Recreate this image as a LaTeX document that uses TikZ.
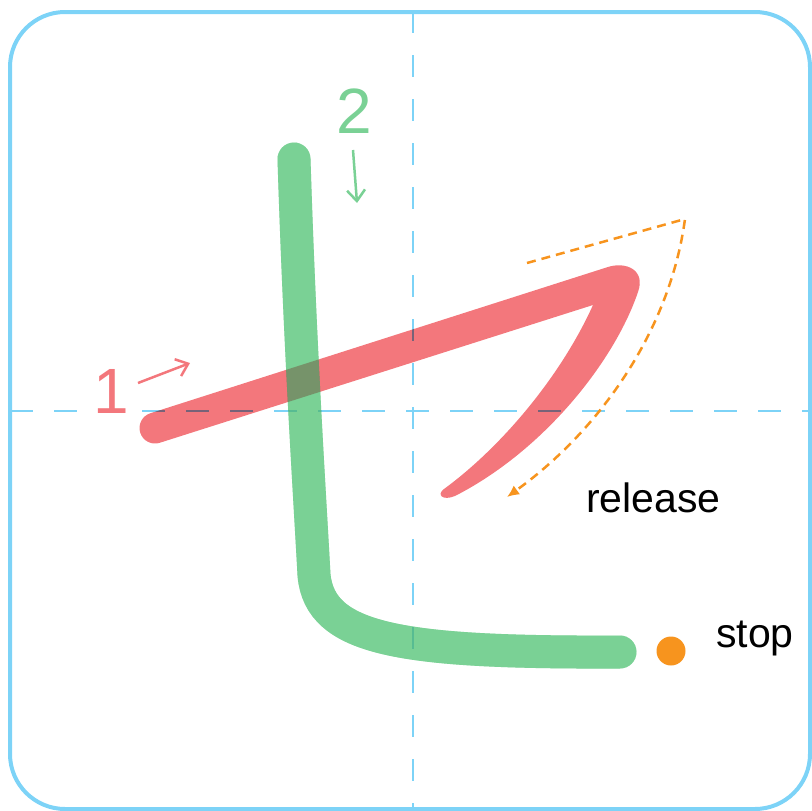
\documentclass[tikz,border=0pt]{standalone}
\usepackage{fontspec}
\setmainfont{Liberation Sans}
\usetikzlibrary{arrows.meta}
\definecolor{gridblue}{RGB}{125,211,247}
\definecolor{strokered}{RGB}{243,119,124}
\definecolor{strokegreen}{RGB}{122,209,149}
\definecolor{hintorange}{RGB}{247,148,30}
\tikzset{
    guide/.style={gridblue, line width=2.5pt, dash pattern=on 22pt off 22pt},
    numlabel/.style={anchor=base, inner sep=0pt, font=\fontsize{64}{70}\selectfont},
    hint/.style={anchor=base west, inner sep=0pt},
    order/.style={line width=2.5pt, -{Straight Barb[length=11pt,width=18pt]}},
    secondstroke/.style={strokegreen, line width=33pt, line cap=round}
}

\begin{document}
\begin{tikzpicture}[x=1pt, y=-1pt, font=\fontsize{41}{46}\selectfont]
    \useasboundingbox (0,0) rectangle (812,811);
    \draw[gridblue, line width=4pt, rounded corners=55pt] (10,12) rectangle (810,809);
    \draw[guide] (413,11) -- (413,809);
    \draw[guide, dash pattern=on 23pt off 21pt] (10,411) -- (810,411);

    % stroke 1, then stroke 2 on top
    \begin{scope}[blend mode=multiply]
        \fill[strokered] (159.7,442.8) arc[start angle=72.4, end angle=252.4, radius=15.5]
            -- (607.3,267.2) .. controls (626,261) and (646,270) .. (638,292)
            .. controls (615,360) and (545,450) .. (455,496)
            .. controls (443,501) and (436,495) .. (444,489)
            .. controls (500,448) and (560,378) .. (593,305) -- cycle;
        \draw[secondstroke]
            (294,159) .. controls (300,350) and (310,500) .. (314,575)
            .. controls (320,640) and (400,653) .. (620,652);
    \end{scope}
    \draw[secondstroke, opacity=0.45]
        (294,159) .. controls (300,350) and (310,500) .. (314,575)
        .. controls (320,640) and (400,653) .. (620,652);

    \node (one) [numlabel, text=strokered] at (111,413) {1};
    \node (two) [numlabel, text=strokegreen] at (354,133) {2};
    \coordinate (one from) at (138,383);
    \coordinate (one to) at (190,363);
    \coordinate (two from) at (353,150);
    \coordinate (two to) at (357,203);
    \draw[order, strokered] (one from) -- (one to);
    \draw[order, strokegreen] (two from) -- (two to);

    \coordinate (sweep start) at (527,263);
    \coordinate (sweep turn) at (685,219);
    \coordinate (sweep end) at (507,497);
    \draw[hintorange, line width=2.5pt, dash pattern=on 9pt off 6pt, -{Latex[length=12pt,width=11pt]}]
        (sweep start) -- (sweep turn) .. controls (670,330) and (600,430) .. (sweep end);

    \node (dot) [circle, fill=hintorange, minimum size=29pt, inner sep=0pt] at (671,651) {};
    \node (release) [hint] at (586,512) {release};
    \node (stop) [hint] at (716,647) {stop};
\end{tikzpicture}
\end{document}
